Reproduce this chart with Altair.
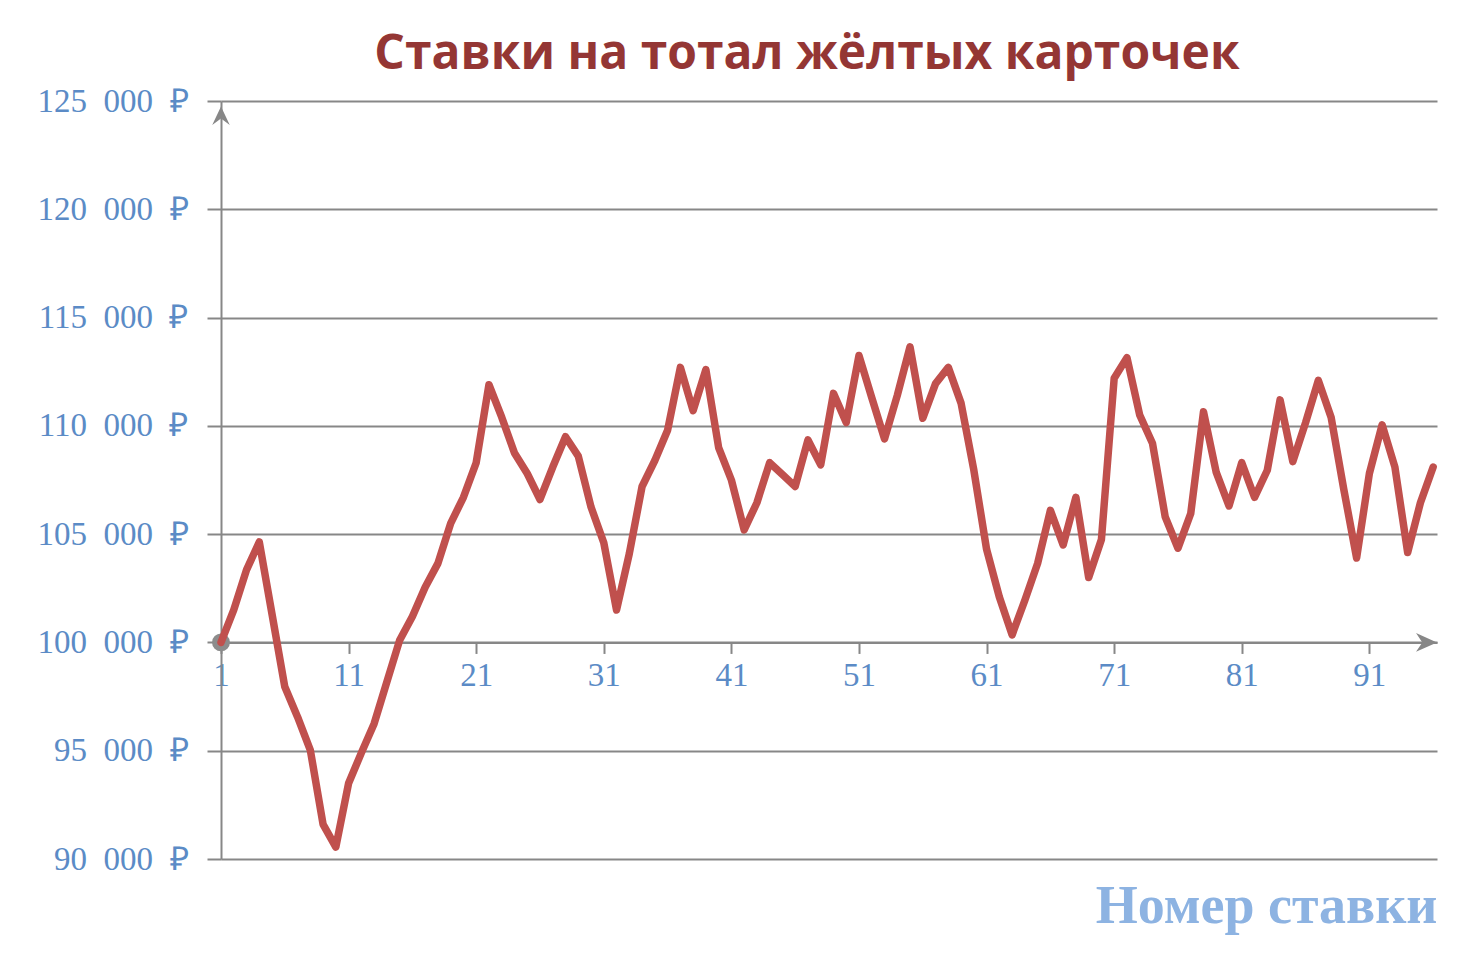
import altair as alt
import pandas as pd

# ---- data ----
bet_numbers = list(range(1, 97))
bankroll = [
    100000, 101500, 103350, 104640, 101300, 97950, 96560, 95030, 91600, 90550,
    93500, 94900, 96250, 98180, 100100, 101200, 102550, 103650, 105500, 106700,
    108300, 111900, 110400, 108750, 107800, 106600, 108100, 109500, 108600, 106250,
    104600, 101500, 104100, 107200, 108400, 109800, 112700, 110700, 112600, 109000,
    107500, 105200, 106450, 108300, 107750, 107200, 109350, 108200, 111500, 110150,
    113250, 111300, 109400, 111400, 113650, 110350, 111950, 112700, 111050, 107960,
    104300, 102100, 100350, 101950, 103650, 106100, 104500, 106700, 103000, 104750,
    112200, 113150, 110500, 109200, 105800, 104350, 105950, 110650, 107850, 106300,
    108300, 106700, 107950, 111200, 108350, 110150, 112100, 110400, 107050, 103900,
    107800, 110050, 108100, 104150, 106450, 108100,
]
x_tick_values = [1, 11, 21, 31, 41, 51, 61, 71, 81, 91]
y_tick_values = [90000, 95000, 100000, 105000, 110000, 115000, 120000, 125000]
x_domain = [1, 96.3]
y_domain = [90000, 125000]
start_value = 100000
title_text = "Ставки на тотал жёлтых карточек"
x_title = "Номер ставки"

df = pd.DataFrame({"bet": bet_numbers, "bank": bankroll})
start_df = pd.DataFrame({"bet": [bet_numbers[0]], "bank": [start_value]})
up_arrow_df = pd.DataFrame({"bet": [x_domain[0]], "bank": [y_domain[1]]})
right_arrow_df = pd.DataFrame({"bet": [x_domain[1]], "bank": [start_value]})

W, H = 1216, 758
axis_gray = "#878787"
label_blue = "#5B8BC6"

x_scale = alt.Scale(domain=x_domain, nice=False, zero=False)
y_scale = alt.Scale(domain=y_domain, nice=False, zero=False)

# offset moves the x axis up to the 100 000 level
x_offset = -H * (start_value - y_domain[0]) / (y_domain[1] - y_domain[0])

x_enc = alt.X(
    "bet:Q",
    scale=x_scale,
    axis=alt.Axis(
        values=x_tick_values,
        offset=x_offset,
        grid=False,
        domain=True,
        domainColor=axis_gray,
        domainWidth=2,
        ticks=True,
        tickColor=axis_gray,
        tickWidth=2,
        tickSize=11,
        labelFont="Liberation Serif",
        labelFontSize=33,
        labelColor=label_blue,
        labelPadding=6,
        labelFlush=False,
        labelOverlap=False,
        title=x_title,
        titleFont="Liberation Serif",
        titleFontSize=54,
        titleFontWeight="bold",
        titleColor="#8DB3E2",
        titleX=W,
        titleY=280,
        titleAlign="right",
        titleBaseline="alphabetic",
    ),
)
y_enc = alt.Y(
    "bank:Q",
    scale=y_scale,
    axis=alt.Axis(
        values=y_tick_values,
        grid=True,
        gridColor=axis_gray,
        gridWidth=2,
        domain=True,
        domainColor=axis_gray,
        domainWidth=2,
        ticks=True,
        tickColor=axis_gray,
        tickWidth=2,
        tickSize=14,
        labelFont="Liberation Serif",
        labelFontSize=33,
        labelColor=label_blue,
        labelPadding=19,
        labelExpr="replace(format(datum.value, ','), ',', '\u00a0\u00a0') + '\u00a0\u00a0₽'",
        title=None,
    ),
)

start_marker = alt.Chart(start_df).mark_point(
    shape="circle", filled=True, size=320, color="#8C8C8C", opacity=1
).encode(x=x_enc, y=y_enc)

up_arrow = alt.Chart(up_arrow_df).mark_point(
    shape="M0,0.5L0.8,2.2L0,1.6L-0.8,2.2Z", filled=True, size=480, color=axis_gray, opacity=1
).encode(x=x_enc, y=y_enc)

right_arrow = alt.Chart(right_arrow_df).mark_point(
    shape="M0,0L-2,-0.9L-1.4,0L-2,0.9Z", filled=True, size=440, color=axis_gray, opacity=1
).encode(x=x_enc, y=y_enc)

line = alt.Chart(df).mark_line(
    color="#C0504D", strokeWidth=7.5, strokeJoin="round", strokeCap="round"
).encode(x=x_enc, y=y_enc)

chart = alt.layer(start_marker, up_arrow, right_arrow, line).properties(
    width=W,
    height=H,
    title=alt.TitleParams(
        text=title_text,
        font="Open Sans",
        fontSize=48,
        fontWeight="bold",
        color="#943634",
        anchor="middle",
        dx=-22,
        offset=6,
    ),
    autosize=alt.AutoSizeParams(type="none"),
    padding={"left": 213, "top": 93, "right": 15, "bottom": 91},
).configure_view(stroke=None)

chart.save("out.html", embed_options={"renderer": "svg", "actions": False})
